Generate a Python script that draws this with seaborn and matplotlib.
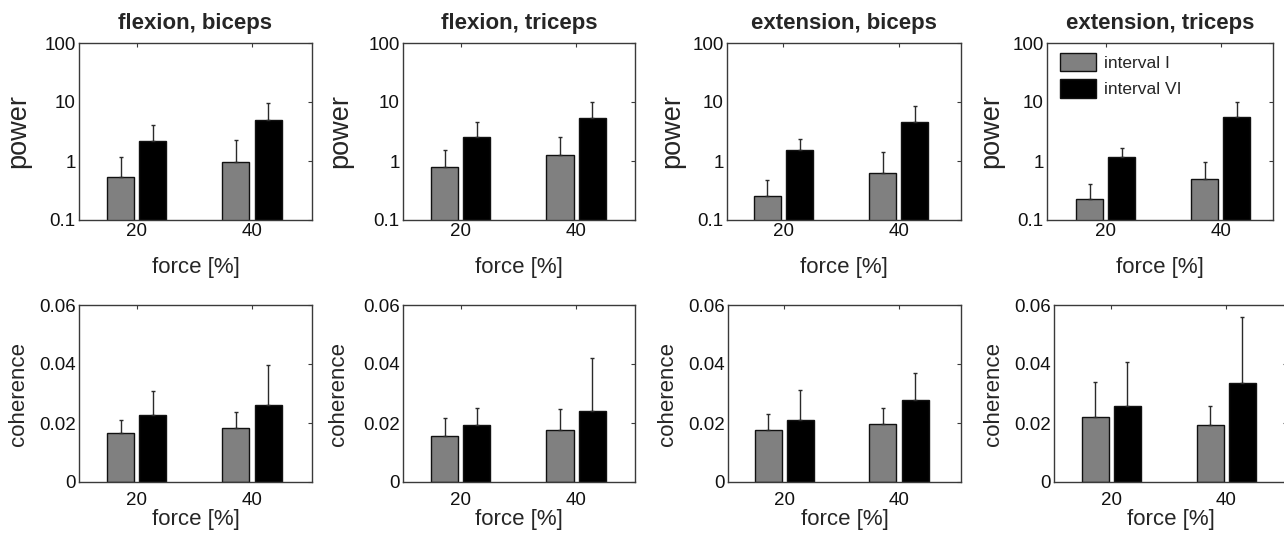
import numpy as np
import pandas as pd
import matplotlib
matplotlib.use("Agg")
import matplotlib.pyplot as plt
import seaborn as sns
from matplotlib.ticker import NullLocator
from matplotlib.patches import Patch

# ---------------- data ----------------
forces = ["20", "40"]
intervals = ["interval I", "interval VI"]
titles = ["flexion, biceps", "flexion, triceps", "extension, biceps", "extension, triceps"]

power_I = [[0.54, 0.97], [0.80, 1.26], [0.255, 0.62], [0.224, 0.495]]
power_VI = [[2.15, 5.0], [2.58, 5.42], [1.54, 4.63], [1.18, 5.6]]
power_I_top = [[1.16, 2.3], [1.54, 2.51], [0.476, 1.44], [0.41, 0.97]]
power_VI_top = [[4.0, 9.8], [4.63, 10.1], [2.33, 8.55], [1.68, 10.1]]

coh_I = [[0.0167, 0.0183], [0.0155, 0.0177], [0.0177, 0.0197], [0.0220, 0.0194]]
coh_VI = [[0.0227, 0.0262], [0.0194, 0.0242], [0.0209, 0.0279], [0.0257, 0.0334]]
coh_I_top = [[0.0210, 0.0238], [0.0217, 0.0249], [0.0231, 0.0250], [0.0338, 0.0259]]
coh_VI_top = [[0.0308, 0.0397], [0.0251, 0.0422], [0.0312, 0.0371], [0.0407, 0.0561]]

power_ticks = [0.1, 1, 10, 100]
power_ticklabels = ["0.1", "1", "10", "100"]
coh_ticks = [0, 0.02, 0.04, 0.06]
coh_ticklabels = ["0", "0.02", "0.04", "0.06"]

# ---------------- style ----------------
sns.set_theme(style="white")
plt.rcParams["font.family"] = ["Liberation Sans", "DejaVu Sans"]
GRAY = "#808080"
EDGE = "#111111"
SPINE = "#3a3a3a"
palette = {"interval I": GRAY, "interval VI": "#000000"}
TICK_FS = 13.5
LABEL_FS = 16
TITLE_FS = 16

W, H = 1284, 541
fig = plt.figure(figsize=(W / 100, H / 100), dpi=100)

# axes boxes in pixels: (left, top, width, height)
top_boxes = [(79, 43, 233, 177), (403, 43, 232, 177), (727, 43, 234, 177), (1047, 43, 226, 177)]
bot_boxes = [(79, 305, 233, 177), (403, 305, 232, 177), (728, 305, 233, 177), (1054, 305, 233, 177)]
top_xlims = [(-0.5, 1.52), (-0.5, 1.51), (-0.49, 1.54), (-0.51, 1.455)]
bot_xlims = [(-0.5, 1.52), (-0.5, 1.51), (-0.49, 1.54), (-0.5, 1.53)]
ylab_x_top = [-0.26, -0.27, -0.235, -0.245]
ylab_x_bot = [-0.26, -0.28, -0.26, -0.26]


def make_ax(box):
    l, t, w, h = box
    return fig.add_axes([l / W, 1 - (t + h) / H, w / W, h / H])


def draw_panel(ax, vals_I, vals_VI, top_I, top_VI, log):
    df = pd.DataFrame({
        "force": forces * 2,
        "interval": [intervals[0]] * 2 + [intervals[1]] * 2,
        "value": list(vals_I) + list(vals_VI),
    })
    sns.barplot(data=df, x="force", y="value", hue="interval", order=forces,
                hue_order=intervals, palette=palette, width=0.56, gap=0.16,
                errorbar=None, edgecolor=EDGE, linewidth=1.0, saturation=1,
                legend=False, ax=ax)
    tops = [top_I, top_VI]
    for cont, tp in zip(ax.containers, tops):
        for bar, t in zip(cont.patches, tp):
            xc = bar.get_x() + bar.get_width() / 2
            hgt = bar.get_height()
            ax.errorbar([xc], [hgt], yerr=[[0], [t - hgt]], fmt="none",
                        ecolor="#2a2a2a", elinewidth=1.0, capsize=1.5,
                        capthick=1.0, zorder=1)
    if log:
        ax.set_yscale("log")
    ax.set_xlabel("force [%]", fontsize=LABEL_FS)
    for sp in ax.spines.values():
        sp.set_visible(True)
        sp.set_color(SPINE)
        sp.set_linewidth(1.0)
    ax.tick_params(direction="in", top=True, right=True, length=3, width=0.8,
                   color=SPINE, labelsize=TICK_FS, labelcolor="#111111")


for i in range(4):
    # power (top row)
    ax = make_ax(top_boxes[i])
    draw_panel(ax, power_I[i], power_VI[i], power_I_top[i], power_VI_top[i], log=True)
    ax.set_ylim(0.1, 100)
    ax.set_yticks(power_ticks, labels=power_ticklabels)
    ax.yaxis.set_minor_locator(NullLocator())
    ax.set_xlim(*top_xlims[i])
    ax.tick_params(axis="x", pad=2)
    ax.tick_params(axis="y", pad=2.5)
    ax.set_ylabel("power", fontsize=19.5)
    ax.yaxis.set_label_coords(ylab_x_top[i], 0.5)
    ax.yaxis.label.set_va("center")
    ax.xaxis.set_label_coords(0.5, -47 / 177)
    ax.xaxis.label.set_va("center")
    ax.set_title(titles[i], fontsize=TITLE_FS, fontweight="bold", pad=10)
    if i == 3:
        handles = [Patch(facecolor=palette[k], edgecolor=EDGE, linewidth=1.0) for k in intervals]
        ax.legend(handles, intervals, loc="upper left", frameon=False,
                  bbox_to_anchor=(13 / 226, 1 - 10 / 177), borderaxespad=0,
                  borderpad=0, fontsize=12.5, handlelength=2.05, handleheight=1.25,
                  labelspacing=0.45, handletextpad=0.5)

    # coherence (bottom row)
    ax = make_ax(bot_boxes[i])
    draw_panel(ax, coh_I[i], coh_VI[i], coh_I_top[i], coh_VI_top[i], log=False)
    ax.set_ylim(0, 0.06)
    ax.set_yticks(coh_ticks, labels=coh_ticklabels)
    ax.set_xlim(*bot_xlims[i])
    ax.tick_params(axis="x", pad=7.5)
    ax.tick_params(axis="y", pad=2.5)
    ax.set_ylabel("coherence", fontsize=LABEL_FS)
    ax.yaxis.set_label_coords(ylab_x_bot[i], 0.5)
    ax.yaxis.label.set_va("center")
    ax.xaxis.set_label_coords(0.5, -37 / 177)
    ax.xaxis.label.set_va("center")

fig.savefig("out.png", dpi=100, facecolor="white")
